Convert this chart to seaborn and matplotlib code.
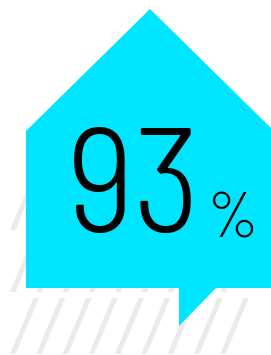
import matplotlib
matplotlib.use("Agg")
import matplotlib.pyplot as plt
import seaborn as sns
import pandas as pd
import warnings
warnings.filterwarnings("ignore")

# ---- data ----
values = [93]
units = ["%"]

# ---- style ----
sns.set_theme(style="white")
plt.rcParams["font.family"] = ["Barlow Semi Condensed", "DejaVu Sans"]

W, H = 271, 355
fig = plt.figure(figsize=(W / 100, H / 100), dpi=100)
ax = fig.add_axes([0, 0, 1, 1])
ax.set_xlim(0, W)
ax.set_ylim(H, 0)
ax.axis("off")

CYAN = "#00E5FF"
GRAY = "#EBEBEB"

# background diagonal stripes (three rows)
rows = [(176, 230), (239, 292), (298, 354)]
slant = 0.42
sw = 5.5
for top, bot in rows:
    for k in range(9):
        xb = 10 + 26.25 * k
        xt = xb + slant * (bot - top)
        ax.fill([xb, xb + sw, xt + sw, xt], [bot, bot, top, top], color=GRAY, lw=0, zorder=1)

# house-shaped speech bubble
hx = [26, 26, 150, 271, 271, 216, 179, 179]
hy = [288, 131, 9, 128, 288, 288, 326, 288]
ax.fill(hx, hy, color=CYAN, lw=0, zorder=2)

# big number
df = pd.DataFrame({"value": values, "unit": units})
ax.text(67, 232, f"{df.value[0]}", fontsize=106, weight=300, color="black",
        ha="left", va="baseline", zorder=3)
ax.text(208, 238, df.unit[0], fontsize=46, weight=300, color="black",
        family=["Barlow Condensed", "DejaVu Sans"],
        ha="left", va="baseline", zorder=3)

fig.savefig("out.png", dpi=100)
